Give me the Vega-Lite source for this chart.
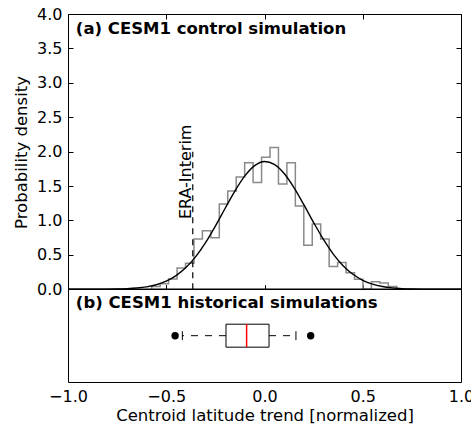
{
  "$schema": "https://vega.github.io/schema/vega-lite/v6.json",
  "autosize": {"type": "none"},
  "padding": {"left": 68, "top": 14, "right": 10, "bottom": 46},
  "width": 393,
  "height": 368,
  "background": "white",
  "config": {
    "view": {"stroke": "black", "strokeWidth": 1},
    "font": "DejaVu Sans",
    "axis": {
      "domain": false, "grid": false, "labelFont": "DejaVu Sans", "labelFontSize": 16, "labelColor": "black",
      "titleFont": "DejaVu Sans", "titleFontSize": 16.5, "titleFontWeight": "normal", "titleColor": "black",
      "tickColor": "black", "tickWidth": 1, "labelFlush": false, "labelOverlap": false, "labelBound": false
    }
  },
  "datasets": {
    "hist": [
      {"i": 0, "edge": -0.574, "density": 0},
      {"i": 1, "edge": -0.574, "density": 0.04},
      {"i": 2, "edge": -0.531, "density": 0.08},
      {"i": 3, "edge": -0.488, "density": 0.15},
      {"i": 4, "edge": -0.445, "density": 0.31},
      {"i": 5, "edge": -0.402, "density": 0.38},
      {"i": 6, "edge": -0.359, "density": 0.73},
      {"i": 7, "edge": -0.316, "density": 0.85},
      {"i": 8, "edge": -0.273, "density": 0.75},
      {"i": 9, "edge": -0.230, "density": 1.24},
      {"i": 10, "edge": -0.187, "density": 1.43},
      {"i": 11, "edge": -0.144, "density": 1.63},
      {"i": 12, "edge": -0.101, "density": 1.84},
      {"i": 13, "edge": -0.058, "density": 1.55},
      {"i": 14, "edge": -0.015, "density": 1.92},
      {"i": 15, "edge": 0.028, "density": 2.06},
      {"i": 16, "edge": 0.071, "density": 1.53},
      {"i": 17, "edge": 0.114, "density": 1.84},
      {"i": 18, "edge": 0.157, "density": 1.21},
      {"i": 19, "edge": 0.200, "density": 0.64},
      {"i": 20, "edge": 0.243, "density": 0.95},
      {"i": 21, "edge": 0.286, "density": 0.73},
      {"i": 22, "edge": 0.329, "density": 0.33},
      {"i": 23, "edge": 0.372, "density": 0.39},
      {"i": 24, "edge": 0.415, "density": 0.24},
      {"i": 25, "edge": 0.458, "density": 0.145},
      {"i": 26, "edge": 0.501, "density": 0},
      {"i": 27, "edge": 0.544, "density": 0.11},
      {"i": 28, "edge": 0.587, "density": 0.09},
      {"i": 29, "edge": 0.630, "density": 0.04},
      {"i": 30, "edge": 0.673, "density": 0}
    ],
    "fit": [
      {"x": -1.0, "pdf": 0.00003}, {"x": -0.95, "pdf": 0.0001}, {"x": -0.9, "pdf": 0.0003},
      {"x": -0.85, "pdf": 0.0007}, {"x": -0.8, "pdf": 0.0017}, {"x": -0.75, "pdf": 0.0039},
      {"x": -0.7, "pdf": 0.0086}, {"x": -0.65, "pdf": 0.0179}, {"x": -0.6, "pdf": 0.0354},
      {"x": -0.55, "pdf": 0.0663}, {"x": -0.5, "pdf": 0.1177}, {"x": -0.45, "pdf": 0.198},
      {"x": -0.4, "pdf": 0.315}, {"x": -0.35, "pdf": 0.475}, {"x": -0.3, "pdf": 0.679},
      {"x": -0.25, "pdf": 0.919}, {"x": -0.2, "pdf": 1.178}, {"x": -0.15, "pdf": 1.431},
      {"x": -0.1, "pdf": 1.647}, {"x": -0.05, "pdf": 1.796}, {"x": 0.0, "pdf": 1.856},
      {"x": 0.05, "pdf": 1.816}, {"x": 0.1, "pdf": 1.683}, {"x": 0.15, "pdf": 1.478},
      {"x": 0.2, "pdf": 1.230}, {"x": 0.25, "pdf": 0.970}, {"x": 0.3, "pdf": 0.724},
      {"x": 0.35, "pdf": 0.512}, {"x": 0.4, "pdf": 0.343}, {"x": 0.45, "pdf": 0.218},
      {"x": 0.5, "pdf": 0.131}, {"x": 0.55, "pdf": 0.0747}, {"x": 0.6, "pdf": 0.0403},
      {"x": 0.65, "pdf": 0.0206}, {"x": 0.7, "pdf": 0.0100}, {"x": 0.75, "pdf": 0.0046},
      {"x": 0.8, "pdf": 0.0020}, {"x": 0.85, "pdf": 0.0008}, {"x": 0.9, "pdf": 0.0003},
      {"x": 0.95, "pdf": 0.0001}, {"x": 1.0, "pdf": 0.00004}
    ],
    "era": [{"trend": -0.365, "label": "ERA-Interim"}],
    "box": [{"lower": -0.418, "q1": -0.196, "median": -0.091, "q3": 0.023, "upper": 0.160}],
    "outliers": [{"value": -0.455}, {"value": 0.235}],
    "panels": [{"label": "(a) CESM1 control simulation", "panel": "a"}, {"label": "(b) CESM1 historical simulations", "panel": "b"}]
  },
  "resolve": {"axis": {"x": "independent", "y": "independent"}},
  "layer": [
    {
      "data": {"name": "hist"},
      "mark": {"type": "line", "interpolate": "step-after", "color": "#8a8a8a", "strokeWidth": 1.5},
      "encoding": {
        "x": {"field": "edge", "type": "quantitative", "scale": {"domain": [-1, 1], "nice": false, "zero": false},
              "axis": {"orient": "bottom", "offset": -92.4, "values": [-1, -0.5, 0, 0.5, 1], "tickSize": -5, "labels": false, "title": null}},
        "y": {"field": "density", "type": "quantitative", "scale": {"domain": [-1.347, 4], "nice": false, "zero": false},
              "axis": {"orient": "left", "values": [0, 0.5, 1, 1.5, 2, 2.5, 3, 3.5, 4], "format": ".1f", "tickSize": -5, "labelPadding": 11,
                       "title": "Probability density", "titleX": -42, "titleY": 138, "titleBaseline": "alphabetic", "titleAngle": 270}},
        "order": {"field": "i", "type": "quantitative"}
      }
    },
    {
      "data": {"name": "fit"},
      "mark": {"type": "line", "interpolate": "monotone", "color": "black", "strokeWidth": 1.4},
      "encoding": {
        "x": {"field": "x", "type": "quantitative",
              "axis": {"orient": "top", "values": [-1, -0.5, 0, 0.5, 1], "tickSize": -5, "labels": false, "title": null}},
        "y": {"field": "pdf", "type": "quantitative",
              "axis": {"orient": "right", "values": [0, 0.5, 1, 1.5, 2, 2.5, 3, 3.5, 4], "tickSize": -5, "labels": false, "title": null}}
      }
    },
    {
      "data": {"name": "era"},
      "mark": {"type": "rule", "color": "black", "strokeWidth": 1.2, "strokeDash": [6, 5]},
      "encoding": {
        "x": {"field": "trend", "type": "quantitative", "axis": null},
        "y": {"datum": 0, "axis": null},
        "y2": {"datum": 2.0}
      }
    },
    {
      "data": {"name": "era"},
      "mark": {"type": "text", "angle": 270, "align": "left", "baseline": "alphabetic", "fontSize": 16, "font": "DejaVu Sans", "color": "black", "dy": -2},
      "encoding": {
        "x": {"field": "trend", "type": "quantitative", "axis": null},
        "y": {"datum": 1.02, "axis": null},
        "text": {"field": "label"}
      }
    },
    {
      "data": {"values": [{}]},
      "mark": {"type": "rule", "color": "black", "strokeWidth": 1.5},
      "encoding": {"y": {"datum": 0, "axis": null}}
    },
    {
      "data": {"name": "panels"},
      "transform": [{"filter": "datum.panel == 'a'"}],
      "mark": {"type": "text", "align": "left", "baseline": "alphabetic", "fontSize": 16.5, "fontWeight": "bold", "font": "DejaVu Sans", "color": "black"},
      "encoding": {
        "x": {"datum": -0.96, "axis": null},
        "y": {"datum": 3.705, "axis": null},
        "text": {"field": "label"}
      }
    },
    {
      "data": {"name": "panels"},
      "transform": [{"filter": "datum.panel == 'b'"}],
      "mark": {"type": "text", "align": "left", "baseline": "alphabetic", "fontSize": 16.5, "fontWeight": "bold", "font": "DejaVu Sans", "color": "black"},
      "encoding": {
        "x": {"datum": -0.96, "axis": null},
        "y": {"datum": -0.267, "axis": null},
        "text": {"field": "label"}
      }
    },
    {
      "data": {"name": "box"},
      "mark": {"type": "rule", "color": "black", "strokeWidth": 1, "strokeDash": [7, 7]},
      "encoding": {
        "x": {"field": "q1", "type": "quantitative", "axis": null},
        "x2": {"field": "lower"},
        "y": {"datum": -0.674, "axis": null}
      }
    },
    {
      "data": {"name": "box"},
      "mark": {"type": "rule", "color": "black", "strokeWidth": 1, "strokeDash": [7, 7]},
      "encoding": {
        "x": {"field": "q3", "type": "quantitative", "axis": null},
        "x2": {"field": "upper"},
        "y": {"datum": -0.674, "axis": null}
      }
    },
    {
      "data": {"name": "box"},
      "mark": {"type": "rule", "color": "black", "strokeWidth": 1},
      "encoding": {
        "x": {"field": "lower", "type": "quantitative", "axis": null},
        "y": {"datum": -0.609, "axis": null},
        "y2": {"datum": -0.739}
      }
    },
    {
      "data": {"name": "box"},
      "mark": {"type": "rule", "color": "black", "strokeWidth": 1},
      "encoding": {
        "x": {"field": "upper", "type": "quantitative", "axis": null},
        "y": {"datum": -0.609, "axis": null},
        "y2": {"datum": -0.739}
      }
    },
    {
      "data": {"name": "box"},
      "mark": {"type": "rect", "fill": "white", "stroke": "black", "strokeWidth": 1},
      "encoding": {
        "x": {"field": "q1", "type": "quantitative",
              "axis": {"orient": "bottom", "values": [-1, -0.5, 0, 0.5, 1], "format": ".1f", "ticks": false, "labelPadding": 6,
                       "title": "Centroid latitude trend [normalized]", "titleY": 38, "titleBaseline": "alphabetic"}},
        "x2": {"field": "q3"},
        "y": {"datum": -0.507, "axis": null},
        "y2": {"datum": -0.841}
      }
    },
    {
      "data": {"name": "box"},
      "mark": {"type": "rule", "color": "red", "strokeWidth": 1.5},
      "encoding": {
        "x": {"field": "median", "type": "quantitative", "axis": null},
        "y": {"datum": -0.507, "axis": null},
        "y2": {"datum": -0.841}
      }
    },
    {
      "data": {"name": "outliers"},
      "mark": {"type": "point", "filled": true, "color": "black", "opacity": 1, "size": 55},
      "encoding": {
        "x": {"field": "value", "type": "quantitative", "axis": null},
        "y": {"datum": -0.674, "axis": null}
      }
    }
  ]
}
